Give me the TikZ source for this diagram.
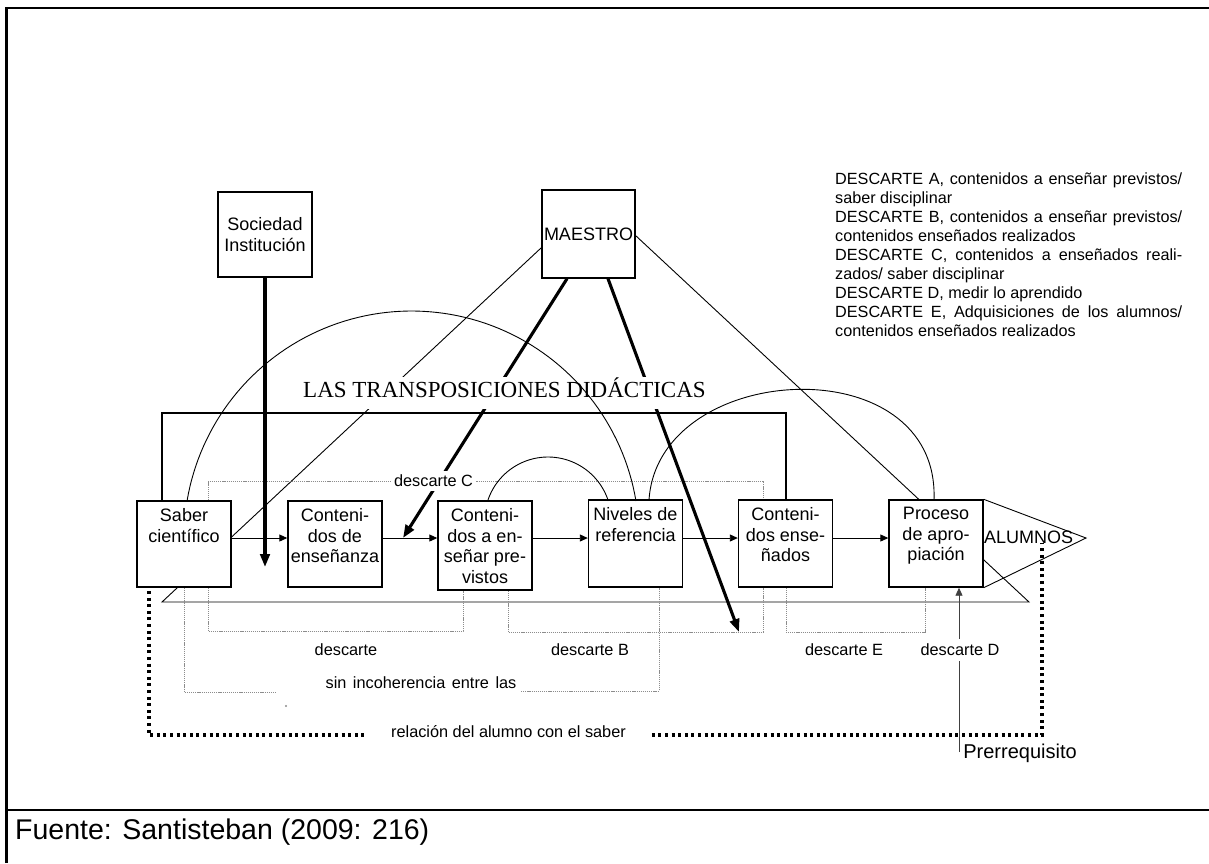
\documentclass[tikz,border=0pt]{standalone}
\usepackage{fontspec}
\setmainfont{Liberation Sans}
\newfontfamily\serifttl{Liberation Serif}
\usetikzlibrary{arrows.meta}
\pgfdeclarelayer{bg}
\pgfsetlayers{bg,main}
\newcommand{\bxt}[2]{\parbox[c][#1][t]{94pt}{\centering\vspace*{7.5pt}#2\par}}
\begin{document}
\begin{tikzpicture}[x=1pt,y=-1pt,
  box/.style={draw, line width=1.4pt, fill=white, inner sep=0pt, font=\fontsize{18}{20.5}\selectfont},
  lbl/.style={font=\fontsize{16.3}{19}\selectfont, inner sep=1.5pt},
  thinln/.style={line width=0.9pt},
  harr/.style={line width=0.9pt,-{Triangle[length=8pt,width=7pt]}},
  tarr/.style={line width=3.1pt,-{Triangle[length=13pt,width=9.5pt]}},
  gdot/.style={draw=black!45, line width=0.9pt, dash pattern=on 1.2pt off 0.9pt},
  bdot/.style={line width=3.2pt, dash pattern=on 3pt off 3.6pt},
  garr/.style={draw=black!75, line width=0.9pt,-{Triangle[length=8pt,width=7pt]}}
]
\useasboundingbox (0,0) rectangle (1209,863);
\begin{pgfonlayer}{bg}
\fill[white] (0,0) rectangle (1209,863);
\end{pgfonlayer}

% frame
\draw[line width=3pt] (6,863) -- (6,8);
\draw[line width=2pt] (5,8) -- (1209,8);
\draw[line width=2pt] (5,810) -- (1209,810);
\node[anchor=west, inner sep=0pt, font=\fontsize{28.5}{30}\selectfont] (src) at (15,832) {Fuente: Santisteban (2009: 216)};

% top boxes
\node[box, minimum width=94pt, minimum height=85pt, align=center] (soc) at (265,234.5) {Sociedad\\Instituci\'on};
\node[box, minimum width=93pt, minimum height=88pt, align=center] (mae) at (588.5,234) {MAESTRO};

% row of boxes
\node[box] (sab) at (184,544) {\bxt{86pt}{Saber\\cient\'ifico}};
\node[box] (cde) at (335,544) {\bxt{86pt}{Conteni-\\dos de\\ense\~nanza}};
\node[box] (cep) at (485,545.5) {\bxt{89pt}{Conteni-\\dos a en-\\se\~nar pre-\\vistos}};
\node[box] (niv) at (635.5,543.5) {\bxt{87pt}{Niveles de\\referencia}};
\node[box] (cen) at (785.5,543.5) {\bxt{87pt}{Conteni-\\dos ense-\\\~nados}};
\node[box] (pro) at (936,543.5) {\bxt{87pt}{Proceso\\de apro-\\piaci\'on}};

\coordinate (row) at (0,538);
\coordinate (tip) at (1086,538);
\coordinate (socT) at (265,567);
\coordinate (m1T) at (403,538);
\coordinate (m2T) at (739,632);
\coordinate (mL) at (541,248);
\coordinate (mR) at (635,235);
\coordinate (baseL) at (162,602);
\coordinate (baseR) at (1029,602);
\coordinate (dD) at (959,752);

% title
\node[fill=white, anchor=base, inner xsep=3pt, inner ysep=0pt, text height=20pt, text depth=12pt,
      font=\serifttl\fontsize{23}{25}\selectfont] (ttl) at (504.5,397) {LAS TRANSPOSICIONES DID\'ACTICAS};

% labels
\node[lbl, fill=white, inner xsep=3pt, inner ysep=4pt] (lC) at (433.5,481) {descarte C};
\node[lbl] (lA) at (346,650) {descarte};
\node[lbl] (lB) at (590,650) {descarte B};
\node[lbl] (lE) at (844,650) {descarte E};
\node[lbl, fill=white, inner ysep=5pt] (lD) at (960,650) {descarte D};
\node[lbl] (lS) at (421,683) {\spaceskip=6.5pt sin incoherencia entre las};
\node[lbl, fill=white, inner xsep=23pt] (lR) at (508.5,732) {relaci\'on del alumno con el saber};
\node[font=\fontsize{20}{22}\selectfont, inner sep=0pt] (pre) at (1020,753) {Prerrequisito};
\node[font=\fontsize{18}{20}\selectfont, inner sep=0pt] (alu) at (1028.5,537) {ALUMNOS};

% legend
\node[anchor=north west, text width=347pt, align=justify, inner sep=0pt,
      font=\fontsize{16.2}{18.9}\selectfont] (leg) at (835,173)
 {\hyphenpenalty=10000 DESCARTE A, contenidos a ense\~nar previstos/\linebreak saber disciplinar\newline
  DESCARTE B, contenidos a ense\~nar previstos/\linebreak contenidos ense\~nados realizados\newline
  DESCARTE C, contenidos a ense\~nados reali-\linebreak zados/ saber disciplinar\newline
  DESCARTE D, medir lo aprendido\newline
  DESCARTE E, Adquisiciones de los alumnos/\linebreak contenidos ense\~nados realizados};

\begin{pgfonlayer}{bg}
  % MAESTRO triangle
  \draw[thinln] (mL) -- (baseL) -- (baseR) -- (mR);
  % big rectangle
  \draw[line width=1.6pt] (sab.north -| 162,0) -- (162,413) -- (786,413) -- (cen.north -| 786,0);
  % grey dotted descartes
  \draw[gdot] (sab.north -| 208,0) -- (208,481) -- (763,481) -- (cen.north -| 763,0);
  \draw[gdot] (sab.south -| 208,0) -- (208,631) -- (463,631) -- (cep.south -| 463,0);
  \draw[gdot] (cep.south -| 508,0) -- (508,632) -- (763,632) -- (cen.south -| 763,0);
  \draw[gdot] (cen.south -| 786,0) -- (786,632) -- (925,632) -- (pro.south -| 925,0);
  \draw[gdot] (sab.south -| 184,0) -- (184,692) -- (276,692);
  \draw[gdot] (521,691) -- (659,691) -- (niv.south -| 659,0);
  % black dotted
  \draw[bdot] (149,591) -- (149,735) -- (1042,735) -- (1042,543);
  % descarte D arrow
  \draw[garr] (dD) -- (pro.south -| 959,0);
  % horizontal arrows
  \draw[harr] (sab.east |- row) -- (cde.west |- row);
  \draw[harr] (cde.east |- row) -- (cep.west |- row);
  \draw[harr] (cep.east |- row) -- (niv.west |- row);
  \draw[harr] (niv.east |- row) -- (cen.west |- row);
  \draw[harr] (cen.east |- row) -- (pro.west |- row);
  % thick arrows
  \draw[tarr] (soc.south) -- (socT);
  \draw[tarr] (mae.south -| 567,0) -- (m1T);
  \draw[tarr] (mae.south -| 608,0) -- (m2T);
\end{pgfonlayer}

% ALUMNOS triangle
\draw[thinln] (pro.north east) -- (tip) -- (pro.south east);

% arcs
\draw[thinln] plot[domain=-170.5:-9.5, samples=90] ({411.5+227.6*cos(\x)},{538.6+227.6*sin(\x)});
\draw[thinln] plot[domain=-162.1:-17.9, samples=50] ({548+63.4*cos(\x)},{520.4+63.4*sin(\x)});
\draw[thinln] (649,500) .. controls (658,360) and (940,345) .. (934,500);

% stray dot
\fill[black!45] (286,706) circle[radius=1.2];
\end{tikzpicture}
\end{document}
